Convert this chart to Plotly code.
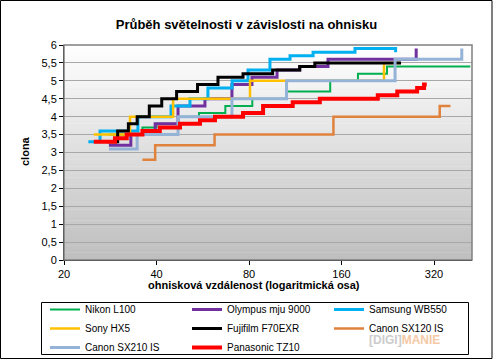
import math
import plotly.graph_objects as go

# ---------------- data (focal length in mm eq., aperture f-number) ----------------
names = ["Nikon L100", "Olympus mju 9000", "Samsung WB550", "Sony HX5",
         "Fujifilm F70EXR", "Canon SX120 IS", "Canon SX210 IS", "Panasonic TZ10"]
colors = ["#00b050", "#7030a0", "#00b0f0", "#ffc000",
          "#000000", "#e0823c", "#95b3d7", "#ff0000"]
widths = [2, 3, 3, 2.5, 3, 2.5, 3, 4]

nikon_f = [28, 36, 40, 47, 55, 67, 82, 106, 147, 181, 225, 420]
nikon_n = [3.5, 3.7, 3.8, 4.0, 4.1, 4.3, 4.5, 4.7, 5.0, 5.2, 5.4, 5.4]

olympus_f = [28, 33, 39.6, 47, 57.5, 70.4, 81.8, 98.7, 117, 144.6, 280]
olympus_n = [3.2, 3.5, 3.8, 4.3, 4.5, 4.9, 5.1, 5.3, 5.4, 5.6, 5.9]

samsung_f = [24, 26.2, 34.8, 44.6, 51.4, 58.8, 70.5, 79.4, 93.6, 108.8, 129.3, 177, 240]
samsung_n = [3.3, 3.6, 4.0, 4.3, 4.5, 4.8, 5.0, 5.3, 5.6, 5.7, 5.8, 5.9, 5.8]

sony_f = [25, 32.8, 45.3, 80.6, 220, 248]
sony_n = [3.5, 4.0, 4.5, 5.0, 5.5, 5.5]

fuji_f = [27.5, 29.9, 32.4, 34.6, 37.9, 41.6, 46.5, 54.4, 63.4, 76.5, 95.5, 117, 131, 250]
fuji_n = [3.3, 3.6, 3.8, 4.0, 4.3, 4.5, 4.7, 4.9, 5.1, 5.2, 5.3, 5.4, 5.5, 5.5]

sx120_f = [36, 39.6, 61.8, 150.6, 334, 362]
sx120_n = [2.8, 3.2, 3.5, 4.0, 4.3, 4.3]

sx210_f = [28, 34.6, 47, 70.4, 106, 239, 394]
sx210_n = [3.1, 3.5, 4.0, 4.5, 5.0, 5.6, 5.9]

tz10_f = [25, 29.3, 32, 36, 41, 47.7, 55.4, 62, 76.5, 88.9, 111, 136, 210, 243, 282, 297, 303]
tz10_n = [3.3, 3.4, 3.5, 3.6, 3.7, 3.8, 3.9, 4.0, 4.1, 4.3, 4.4, 4.5, 4.6, 4.7, 4.8, 4.9, 4.9]

x_ticks = [20, 40, 80, 160, 320]
x_range = [20, 425.4]
y_range = [0, 6]

series_f = [nikon_f, olympus_f, samsung_f, sony_f, fuji_f, sx120_f, sx210_f, tz10_f]
series_n = [nikon_n, olympus_n, samsung_n, sony_n, fuji_n, sx120_n, sx210_n, tz10_n]

FONT = "Liberation Sans, Arial, sans-serif"

fig = go.Figure()
for nm, c, w, fx, ny in zip(names, colors, widths, series_f, series_n):
    fig.add_trace(go.Scatter(x=fx, y=ny, name=nm, mode="lines",
                             line=dict(color=c, width=w, shape="hv")))

# gradient plot background
shapes = []
N = 60
for i in range(N):
    t = (i + 0.5) / N
    g = int(round(190 + (255 - 190) * t))
    shapes.append(dict(type="rect", xref="x domain", yref="y domain",
                       x0=0, x1=1, y0=i / N, y1=(i + 1) / N + 0.002,
                       fillcolor=f"rgb({g},{g},{g})", line=dict(width=0),
                       layer="below"))
# plot-area border (gray)
shapes.append(dict(type="rect", xref="x domain", yref="y domain", x0=0, x1=1, y0=0, y1=1,
                   line=dict(color="#808080", width=1.5), layer="above"))
# outer chart border
W, H = 493, 361
L, R, T, B = 64, 21, 45, 101
PW, PH = W - L - R, H - T - B
def px(xp):
    return (xp - L) / PW
def py(yp):
    return (H - B - yp) / PH
shapes.append(dict(type="rect", xref="paper", yref="paper",
                   x0=px(0.5), x1=px(492), y0=py(358.5), y1=py(0.5),
                   line=dict(color="#000000", width=1), layer="above"))
# legend frame
shapes.append(dict(type="rect", xref="paper", yref="paper",
                   x0=px(41.5), x1=px(468.5), y0=py(354.5), y1=py(302.5),
                   line=dict(color="#000000", width=1), fillcolor="white", layer="above"))

fig.update_layout(
    width=W, height=H,
    margin=dict(l=L, r=R, t=T, b=B, autoexpand=False),
    paper_bgcolor="white",
    plot_bgcolor="rgba(0,0,0,0)",
    separators=", ",
    font=dict(family=FONT, size=11, color="#000000"),
    title=dict(text="<b>Průběh světelnosti v závislosti na ohnisku</b>",
               font=dict(size=13, family=FONT, color="#000000"),
               x=0.5, xanchor="center", xref="container",
               y=1 - 24 / H, yanchor="middle", yref="container"),
    shapes=shapes,
    showlegend=True,
    legend=dict(orientation="h", x=px(45), y=py(295), xanchor="left", yanchor="top",
                borderwidth=0, bgcolor="rgba(0,0,0,0)",
                font=dict(size=10, family=FONT, color="#000000"),
                entrywidth=97, entrywidthmode="pixels", traceorder="normal"),
    annotations=[
        dict(text="<b>clona</b>", xref="paper", yref="paper", x=px(17), y=py(151),
             showarrow=False, textangle=-90, font=dict(size=11, family=FONT)),
        dict(text="<b>ohnisková vzdálenost (logaritmická osa)</b>", xref="paper", yref="paper",
             x=px(253.5), y=py(292.5), showarrow=False, font=dict(size=11, family=FONT)),
        dict(text='<b><span style="color:#cccccc">[DIGI]</span><span style="color:#f5c9a6">MANIE</span></b>',
             xref="paper", yref="paper", x=px(442), y=py(349), showarrow=False,
             font=dict(size=12, family=FONT)),
    ],
)

fig.update_xaxes(type="log", range=[math.log10(x_range[0]), math.log10(x_range[1])],
                 tickvals=x_ticks, ticktext=[str(v) for v in x_ticks],
                 showgrid=False, zeroline=False, showline=True, linecolor="#000000",
                 linewidth=1, ticks="outside", ticklen=4, tickcolor="#000000",
                 tickfont=dict(size=11, family=FONT, color="#000000"))
fig.update_yaxes(range=y_range, dtick=0.5, tick0=0,
                 showgrid=True, gridcolor="#a8a8a8", gridwidth=1,
                 zeroline=False, showline=True, linecolor="#000000", linewidth=1,
                 ticks="outside", ticklen=4, tickcolor="#000000",
                 tickfont=dict(size=11, family=FONT, color="#000000"))

fig.write_html("out.html", config={"displayModeBar": False},
               post_script="document.body.style.margin='0';document.body.style.padding='0';")
